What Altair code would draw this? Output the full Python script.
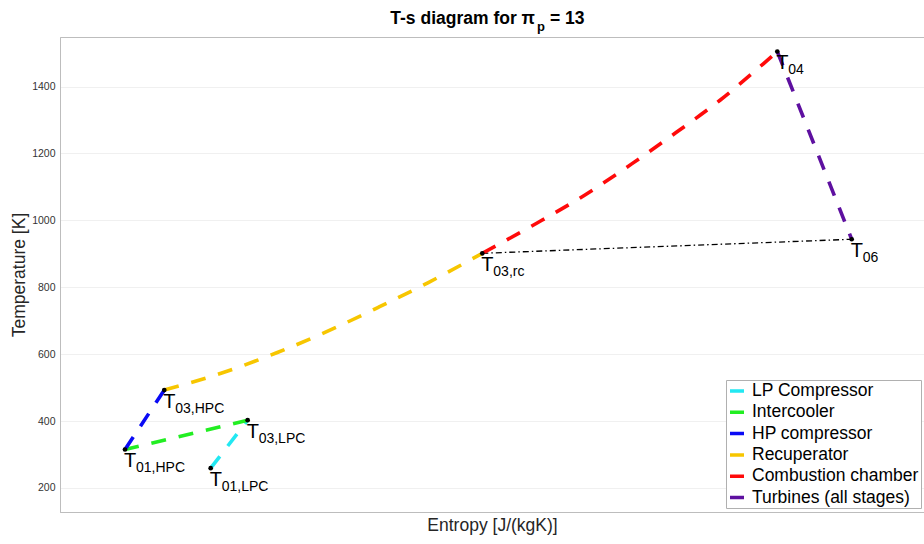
import altair as alt
import pandas as pd

# ---------------- data ----------------
stages = ["LP Compressor", "Intercooler", "HP compressor", "Recuperator",
          "Combustion chamber", "Turbines (all stages)"]
stage_colors = ["#22E8F2", "#22EE22", "#0A0AF5", "#F7C600", "#FF0A0A", "#5E10A0"]

lp_s = [174.4, 217.2]
lp_T = [259.0, 402.6]
ic_s = [217.2, 75.2]
ic_T = [402.6, 314.9]
hp_s = [75.2, 120.7]
hp_T = [314.9, 492.4]
rec_s = [120.7, 189.0, 250.8, 308.6, 368.4, 426.3, 488.8]
rec_T = [492.4, 545.0, 604.0, 667.0, 740.0, 814.0, 901.4]
cc_s = [488.8, 551.7, 607.6, 661.7, 713.0, 763.9, 814.0, 830.2]
cc_T = [901.4, 991.2, 1075.9, 1168.7, 1262.3, 1359.0, 1467.9, 1504.7]
tb_s = [830.2, 916.3]
tb_T = [1504.7, 943.3]

close_s = [488.8, 916.3]
close_T = [901.4, 943.3]

state_sub = ["01,LPC", "03,LPC", "01,HPC", "03,HPC", "03,rc", "04", "06"]
state_s = [174.4, 217.2, 75.2, 120.7, 488.8, 830.2, 916.3]
state_T = [259.0, 402.6, 314.9, 492.4, 901.4, 1504.7, 943.3]

y_ticks = [200, 400, 600, 800, 1000, 1200, 1400]

# ---------------- tables ----------------
rows = []
for name, ss, tt in zip(stages, [lp_s, ic_s, hp_s, rec_s, cc_s, tb_s],
                        [lp_T, ic_T, hp_T, rec_T, cc_T, tb_T]):
    for i, (a, b) in enumerate(zip(ss, tt)):
        rows.append({"stage": name, "s": a, "T": b, "i": i})
seg = pd.DataFrame(rows)
close_df = pd.DataFrame({"s": close_s, "T": close_T, "i": [0, 1]})
states = pd.DataFrame({"s": state_s, "T": state_T, "sub": state_sub, "main": ["T"] * len(state_s)})

FONT = "Liberation Sans"
xs = alt.Scale(domain=[0, 1000], nice=False, zero=False)
ys = alt.Scale(domain=[128, 1548], nice=False, zero=False)

x_enc = alt.X("s:Q", scale=xs, axis=alt.Axis(title="Entropy [J/(kgK)]", labels=False, ticks=False,
                                             grid=False, domainColor="#bdbdbd", titleFontSize=17.5,
                                             titleFontWeight="normal", titleFont=FONT,
                                             titleColor="#262626", titlePadding=4))
y_enc = alt.Y("T:Q", scale=ys, axis=alt.Axis(title="Temperature [K]", values=y_ticks, format="d",
                                             labelFontSize=10.5, labelFont=FONT, labelColor="#333333",
                                             ticks=False, labelPadding=5,
                                             gridColor="#f0f0f0", domainColor="#bdbdbd",
                                             titleFontSize=17.5, titleFontWeight="normal", titleFont=FONT,
                                             titleColor="#262626", titlePadding=3))

lines = alt.Chart(seg).mark_line(strokeWidth=3.6, strokeDash=[15, 13], interpolate="monotone").encode(
    x=x_enc, y=y_enc,
    color=alt.Color("stage:N", sort=stages,
                    scale=alt.Scale(domain=stages, range=stage_colors),
                    legend=alt.Legend(title=None, orient="none", legendX=666, legendY=343,
                                      symbolType="stroke", symbolStrokeWidth=3.5, symbolSize=196,
                                      symbolDash=[1, 0], labelFontSize=17.5, labelFont=FONT,
                                      labelColor="#000000", rowPadding=3.3, padding=2,
                                      strokeColor="#b0b0b0", fillColor="#ffffff", labelOffset=6,
                                      labelLimit=300)),
    detail="stage:N",
    order="i:Q",
)

close_line = alt.Chart(close_df).mark_line(strokeWidth=1.3, strokeDash=[6, 3, 1.5, 3], color="#000000").encode(
    x="s:Q", y="T:Q", order="i:Q")

pts = alt.Chart(states).mark_circle(size=22, color="#000000", opacity=1).encode(x="s:Q", y="T:Q")

t_main = alt.Chart(states).mark_text(font=FONT, fontSize=20, align="left", baseline="top",
                                      dx=-1, dy=2, color="#000000").encode(x="s:Q", y="T:Q", text="main:N")
t_sub = alt.Chart(states).mark_text(font=FONT, fontSize=14, align="left", baseline="top",
                                     dx=11, dy=12, color="#000000").encode(x="s:Q", y="T:Q", text="sub:N")

title_df = pd.DataFrame({"a": ["T-s diagram for π"], "b": ["p"], "c": ["= 13"]})
title_a = alt.Chart(title_df).mark_text(font=FONT, fontSize=17.5, fontWeight="bold", align="right",
                                         baseline="alphabetic", color="#000000").encode(
    x=alt.value(475), y=alt.value(-13), text="a:N")
title_b = alt.Chart(title_df).mark_text(font=FONT, fontSize=13, fontWeight="bold", align="left",
                                         baseline="alphabetic", color="#000000").encode(
    x=alt.value(477), y=alt.value(-6), text="b:N")
title_c = alt.Chart(title_df).mark_text(font=FONT, fontSize=17.5, fontWeight="bold", align="left",
                                         baseline="alphabetic", color="#000000").encode(
    x=alt.value(490), y=alt.value(-13), text="c:N")

chart = alt.layer(close_line, lines, pts, t_main, t_sub, title_a, title_b, title_c).properties(
    width=864, height=475,
    autosize=alt.AutoSizeParams(type="none"),
    padding={"left": 60, "top": 37, "right": 0, "bottom": 32},
    background="#ffffff",
).configure_view(stroke="#bdbdbd", strokeWidth=1)

chart.save("out.html", embed_options={"renderer": "svg", "actions": False})
